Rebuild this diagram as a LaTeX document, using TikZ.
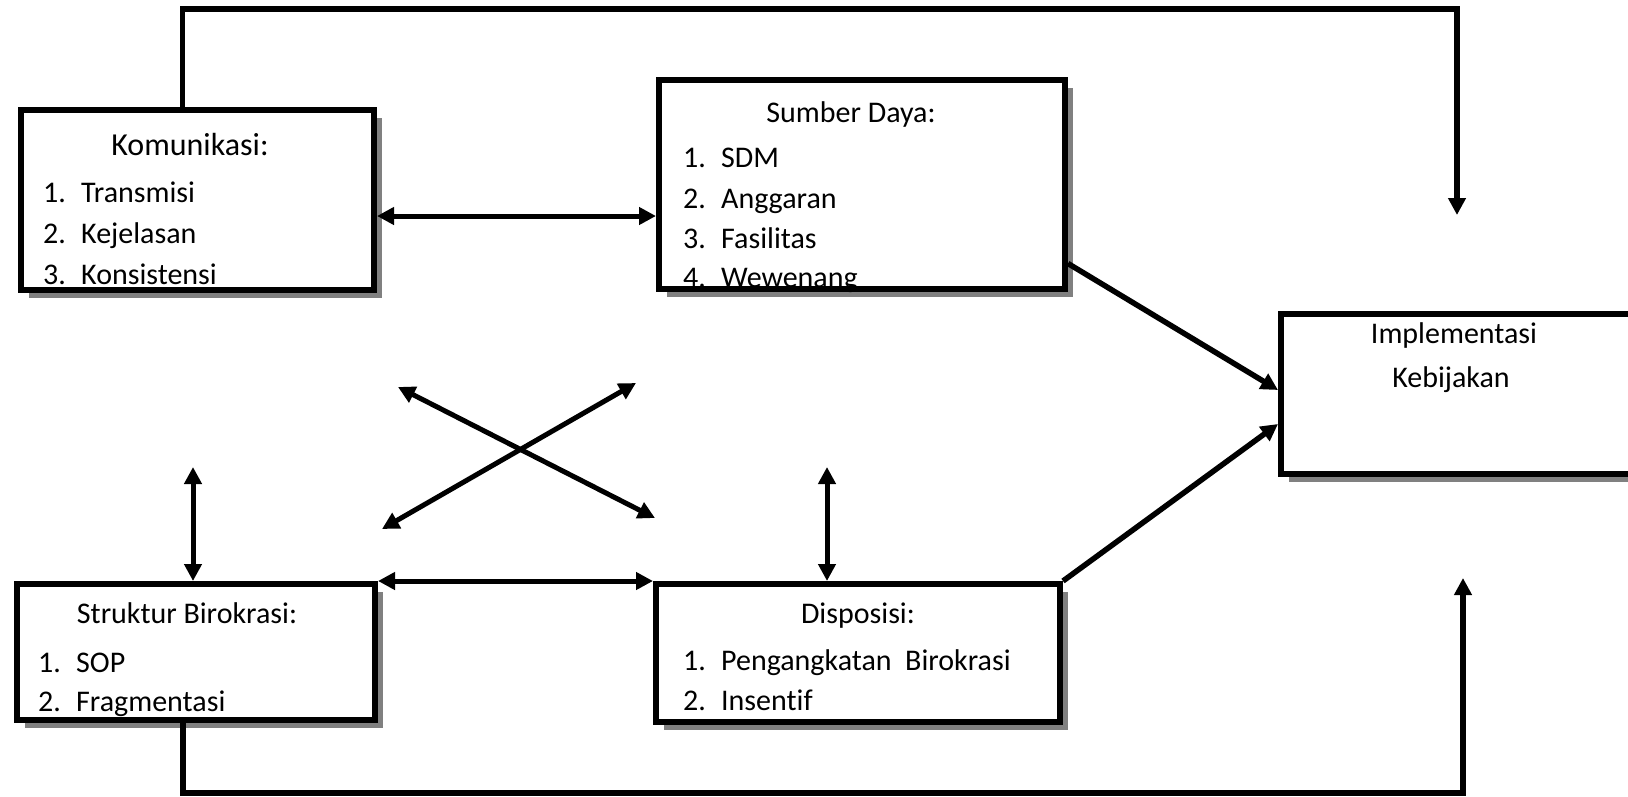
\documentclass[tikz,border=0pt]{standalone}
\usepackage{fontspec}
\setmainfont{Carlito}[Ligatures=NoCommon]
\usepackage{tikz}
\usetikzlibrary{arrows.meta,shadows,positioning,calc}

\newcommand{\nr}[1]{\makebox[38pt][l]{#1}}

\tikzset{
    box/.style={draw, rectangle, line width=6pt, fill=white,
        drop shadow={shadow xshift=8pt, shadow yshift=-8pt, fill=gray, opacity=1}},
    ttl/.style={anchor=base, inner sep=0pt, font=\fontsize{30}{36}\selectfont},
    item/.style={anchor=base west, inner sep=0pt, font=\fontsize{30}{36}\selectfont},
    link/.style={line width=5pt, {Triangle[length=17pt,width=17pt]}-{Triangle[length=17pt,width=17pt]}},
    flow/.style={line width=5.5pt, -{Triangle[length=17pt,width=17pt]}},
}

\begin{document}
\begin{tikzpicture}[x=1pt,y=-1pt]
    \useasboundingbox (0,0) rectangle (1628,796);

    % boxes
    \node[box, minimum width=353pt, minimum height=180pt] (kom) at (197.5,200) {}; % Komunikasi
    \node[box, minimum width=406pt, minimum height=209pt] (sdy) at (862,184.5) {}; % Sumber Daya
    \node[box, minimum width=359pt, minimum height=160pt] (imp) at (1460.5,394) {}; % Implementasi
    \node[box, minimum width=358pt, minimum height=136pt] (str) at (196,652) {}; % Struktur Birokrasi
    \node[box, minimum width=404pt, minimum height=138pt] (dis) at (858,653) {}; % Disposisi

    % texts
    \node[ttl, font=\fontsize{32}{38}\selectfont] (komt) at (190,155) {Komunikasi:};
    \node[item] (kom1) at (43,202) {\nr{1.}Transmisi};
    \node[item] (kom2) at (43,243) {\nr{2.}Kejelasan};
    \node[item] (kom3) at (43,284) {\nr{3.}Konsistensi};

    \node[ttl] (sdyt) at (851,122) {Sumber Daya:};
    \node[item] (sdy1) at (683,167) {\nr{1.}SDM};
    \node[item] (sdy2) at (683,208) {\nr{2.}Anggaran};
    \node[item] (sdy3) at (683,248) {\nr{3.}Fasilitas};
    \node[item] (sdy4) at (683,287) {\nr{4.}Wewenang};

    \node[ttl] (impt) at (1454,343) {Implementasi};
    \node[ttl] (impk) at (1451,387) {Kebijakan};

    \node[ttl] (strt) at (187,623) {Struktur Birokrasi:};
    \node[item] (str1) at (38,672) {\nr{1.}SOP};
    \node[item] (str2) at (38,711) {\nr{2.}Fragmentasi};

    \node[ttl] (dist) at (858,623) {Disposisi:};
    \node[item] (dis1) at (683,670) {\nr{1.}Pengangkatan\ \ Birokrasi};
    \node[item] (dis2) at (683,710) {\nr{2.}Insentif};

    % free ends
    \coordinate (ks) at ([yshift=-16pt]kom.east);
    \coordinate (sv1) at (193,467);
    \coordinate (sv2) at (827,467);
    \coordinate (xa1) at (398,387);
    \coordinate (xa2) at (655,518);
    \coordinate (xb1) at (636,383);
    \coordinate (xb2) at (382,529);
    \coordinate (toptip) at (1457,215);
    \coordinate (bottip) at (1463,578);

    % connectors
    \draw[link] (ks) -- (ks -| sdy.west); % Komunikasi - Sumber Daya
    \draw[link] (str.north east) -- (dis.north west); % Struktur - Disposisi
    \draw[link] (sv1) -- (sv1 |- str.north);
    \draw[link] (sv2) -- (sv2 |- dis.north);
    \draw[link] (xa1) -- (xa2); % cross
    \draw[link] (xb1) -- (xb2);
    \draw[flow] ([yshift=-79pt]sdy.east) -- ([yshift=4pt]imp.west);
    \draw[flow] (dis.north east) -- ([yshift=-30pt]imp.west);
    \draw[flow] ([xshift=-15pt]kom.north) -- ++(0,-98) -| (toptip); % top loop
    \draw[flow] ([xshift=-13pt]str.south) -- ++(0,70) -| (bottip); % bottom loop
\end{tikzpicture}
\end{document}
